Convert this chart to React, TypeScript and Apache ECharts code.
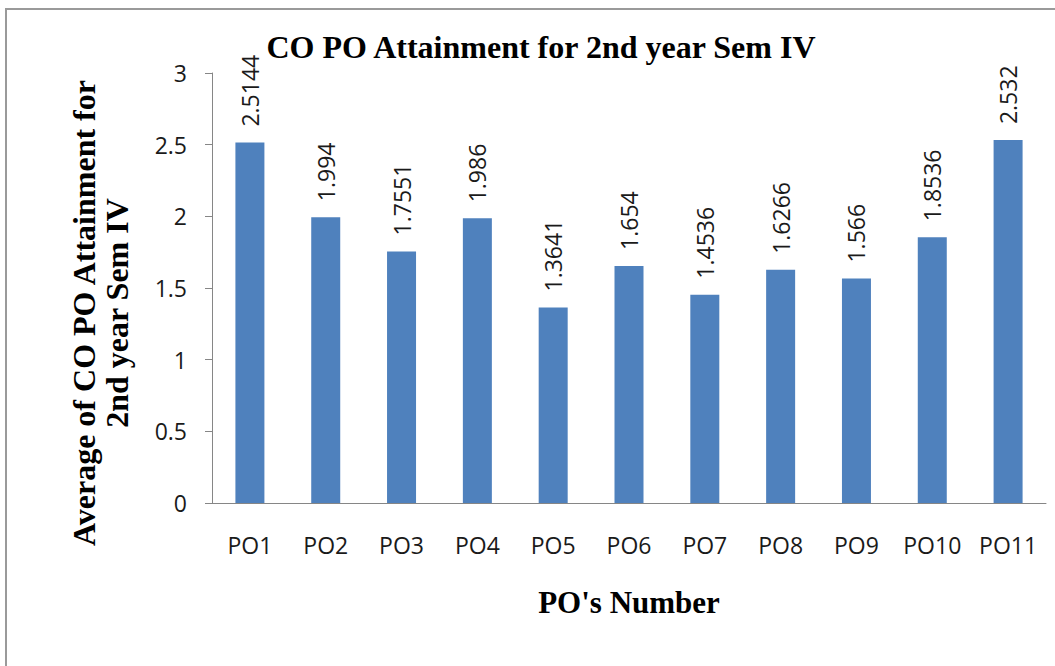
import React, { useEffect, useRef } from "react";
import * as echarts from "echarts";

const categories = ["PO1", "PO2", "PO3", "PO4", "PO5", "PO6", "PO7", "PO8", "PO9", "PO10", "PO11"];
const values = [2.5144, 1.994, 1.7551, 1.986, 1.3641, 1.654, 1.4536, 1.6266, 1.566, 1.8536, 2.532];
const titleText = "CO PO Attainment for 2nd year Sem IV";
const yName = "Average of CO PO Attainment for\n2nd year Sem IV";
const xName = "PO's Number";

export default function App() {
  const ref = useRef<HTMLDivElement>(null);
  useEffect(() => {
    if (!ref.current) return;
    const chart = echarts.init(ref.current, null, { renderer: "svg" });
    const serif = "'Liberation Serif', 'Times New Roman', serif";
    const sans = "'Open Sans', 'Noto Sans', sans-serif";
    chart.setOption({
      animation: false,
      backgroundColor: "#ffffff",
      grid: { left: 212, right: 9, top: 73, bottom: 163, containLabel: false },
      xAxis: {
        type: "category",
        data: categories,
        name: xName,
        nameLocation: "middle",
        nameGap: 84,
        nameTextStyle: { fontFamily: serif, fontWeight: "bold", fontSize: 31, color: "#000" },
        axisLine: { lineStyle: { color: "#868686", width: 1 } },
        axisTick: { show: false },
        axisLabel: { fontFamily: sans, fontSize: 23, color: "#1a1a1a", margin: 30 },
      },
      yAxis: {
        type: "value",
        min: 0,
        max: 3,
        interval: 0.5,
        axisLine: { show: true, lineStyle: { color: "#868686", width: 1 } },
        axisTick: { show: true, length: 7, lineStyle: { color: "#868686" } },
        splitLine: { show: false },
        axisLabel: { fontFamily: sans, fontSize: 23, color: "#1a1a1a", margin: 25 },
      },
      graphic: [
        {
          type: "rect",
          shape: { x: 6, y: 9, width: 1200, height: 800 },
          style: { fill: "none", stroke: "#9a9a9a", lineWidth: 2 },
          silent: true,
        },
        {
          type: "text",
          x: 541,
          y: 47,
          style: {
            text: titleText,
            fontFamily: serif,
            fontWeight: "bold",
            fontSize: 32,
            fill: "#000",
            align: "center",
            verticalAlign: "middle",
          },
        },
        {
          type: "text",
          x: 100,
          y: 313,
          rotation: Math.PI / 2,
          style: {
            text: yName,
            fontFamily: serif,
            fontWeight: "bold",
            fontSize: 32,
            lineHeight: 33,
            fill: "#000",
            align: "center",
            verticalAlign: "middle",
          },
        },
      ],
      series: [
        {
          type: "bar",
          data: values,
          barWidth: 29,
          itemStyle: { color: "#4F81BD" },
          label: {
            show: true,
            position: "top",
            rotate: 90,
            align: "left",
            verticalAlign: "middle",
            distance: 16,
            fontFamily: sans,
            fontSize: 23,
            color: "#1a1a1a",
            formatter: (p: any) => String(p.value),
          },
        },
      ],
    });
    return () => chart.dispose();
  }, []);
  return (
    <div
      ref={ref}
      style={{ position: "fixed", left: 0, top: 0, width: 1055, height: 666, background: "#fff" }}
    />
  );
}
